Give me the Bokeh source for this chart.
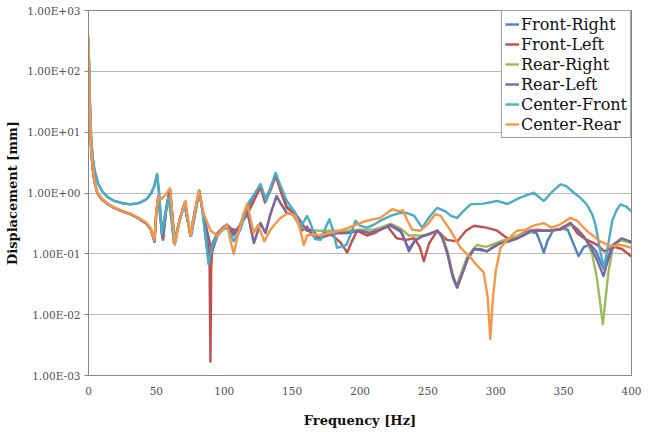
from bokeh.plotting import figure
from bokeh.models import Legend, LegendItem, FixedTicker, CustomJSTickFormatter
from bokeh.embed import file_html
from bokeh.resources import INLINE

# ---------------- data ----------------
series_names = ["Front-Right", "Front-Left", "Rear-Right", "Rear-Left", "Center-Front", "Center-Rear"]
series_colors = ["#4F81BD", "#C0504D", "#9BBB59", "#8064A2", "#4BACC6", "#F79646"]

x_ticks = [0, 50, 100, 150, 200, 250, 300, 350, 400]
y_ticks = [1e-3, 1e-2, 1e-1, 1e0, 1e1, 1e2, 1e3]
y_tick_labels = ["1.00E-03", "1.00E-02", "1.00E-01", "1.00E+00", "1.00E+01", "1.00E+02", "1.00E+03"]

low_f = [0, 0.5, 1, 1.5, 2, 3, 4, 5, 6.5, 10, 15, 19, 25, 31, 37, 43, 46, 48.6]
low_v = [300, 80, 25, 10, 5, 2.6, 1.75, 1.35, 1.0, 0.78, 0.64, 0.57, 0.5, 0.45, 0.38, 0.31, 0.25, 0.16]

fr_f = [0, 0.5, 1, 1.5, 2, 3, 4, 5, 7, 10, 14, 19, 25, 31, 38, 43, 46, 48.5, 50.5, 52, 54, 56.5, 59, 61, 63,
        67, 70.7, 73, 75.6, 78.5, 81.7, 84, 86, 88.5, 91, 95, 99, 102, 107, 112, 117, 122, 126.7, 130, 134,
        137.8, 142, 146, 152, 157, 161, 166, 170, 176, 183, 190, 200, 207, 215, 222.5, 230, 236, 241, 247,
        257, 261, 265, 268.5, 271.5, 275, 279, 284, 293.6, 303.5, 316, 325.6, 330, 333, 335.4, 338, 342, 348,
        353, 357, 361, 365, 370, 374, 377.5, 379.6, 382, 386, 392, 400]
fr_v = [350, 100, 35, 15, 8, 4, 2.7, 2.1, 1.45, 1.08, 0.86, 0.74, 0.68, 0.65, 0.69, 0.8, 0.98, 1.3, 2.0, 1.0,
        0.21, 0.45, 0.83, 0.4, 0.15, 0.35, 0.66, 0.35, 0.2, 0.45, 1.08, 0.5, 0.21, 0.07, 0.13, 0.2, 0.26, 0.28,
        0.2, 0.3, 0.55, 0.9, 1.35, 0.75, 1.2, 2.0, 1.2, 0.6, 0.45, 0.26, 0.25, 0.2, 0.18, 0.2, 0.22, 0.22, 0.24,
        0.22, 0.25, 0.29, 0.23, 0.12, 0.17, 0.2, 0.24, 0.18, 0.09, 0.04, 0.028, 0.045, 0.08, 0.12, 0.11, 0.15,
        0.18, 0.23, 0.22, 0.15, 0.105, 0.16, 0.24, 0.26, 0.25, 0.15, 0.092, 0.13, 0.14, 0.11, 0.07, 0.056, 0.08,
        0.14, 0.17, 0.16]

fl_f = low_f + [50, 51.5, 53, 55, 57.5, 60, 63.6, 67, 71, 75, 78, 81.5, 85, 88, 89.2, 89.8, 90.4, 91.5, 95, 99,
                102, 107, 112, 117, 122, 126.7, 130, 134, 138, 142, 146, 151, 157, 161, 164, 167, 171, 174, 180,
                186, 190.6, 194, 198, 205, 211, 220, 227, 234, 240, 244, 247, 251, 257, 264, 271.6, 278, 284,
                293, 301, 308.5, 313, 320, 325.6, 330.5, 340, 347.7, 355, 360, 365, 374.7, 380, 387, 393, 400]
fl_v = low_v + [0.5, 0.9, 0.4, 0.17, 0.6, 1.15, 0.15, 0.35, 0.7, 0.2, 0.45, 1.08, 0.4, 0.2, 0.06, 0.0017, 0.06,
                0.15, 0.22, 0.27, 0.3, 0.22, 0.3, 0.45, 0.75, 1.25, 0.7, 1.1, 1.9, 1.0, 0.57, 0.47, 0.24, 0.28,
                0.22, 0.18, 0.2, 0.22, 0.2, 0.15, 0.105, 0.16, 0.24, 0.2, 0.22, 0.29, 0.18, 0.17, 0.18, 0.13,
                0.076, 0.15, 0.24, 0.17, 0.16, 0.24, 0.29, 0.27, 0.24, 0.18, 0.18, 0.22, 0.24, 0.25, 0.24, 0.26,
                0.32, 0.22, 0.18, 0.14, 0.11, 0.13, 0.12, 0.09]

rr_f = low_f + [50, 51.5, 53, 54.5, 57.5, 60, 63.6, 67, 71, 75, 78, 81.5, 85, 88, 91, 95, 99, 102, 105, 109.5,
                113, 117, 121.8, 126.7, 130.4, 134, 138.5, 142, 146, 150, 155, 160, 170, 180, 190, 200, 210,
                215, 222.5, 230, 236, 245, 251, 257, 261, 265, 268.5, 271, 274, 279, 286, 293, 303.5, 310, 316,
                322, 328, 338, 347.7, 355, 360, 366, 371, 374.5, 377, 378.9, 380.5, 383, 386, 392, 400]
rr_v = low_v + [0.5, 0.88, 0.4, 0.18, 0.6, 1.15, 0.15, 0.35, 0.7, 0.2, 0.45, 1.08, 0.4, 0.2, 0.11, 0.2, 0.27,
                0.3, 0.26, 0.24, 0.35, 0.5, 0.15, 0.32, 0.22, 0.45, 0.89, 0.65, 0.47, 0.45, 0.3, 0.25, 0.24,
                0.24, 0.24, 0.25, 0.25, 0.27, 0.31, 0.26, 0.2, 0.2, 0.21, 0.24, 0.19, 0.1, 0.045, 0.03, 0.045,
                0.09, 0.14, 0.13, 0.16, 0.18, 0.2, 0.22, 0.24, 0.24, 0.25, 0.3, 0.26, 0.18, 0.1, 0.04, 0.015,
                0.007, 0.015, 0.05, 0.12, 0.17, 0.15]

rl_f = low_f + [50, 51.5, 53, 54.5, 57.5, 60, 63.6, 67, 71, 75, 78, 81.5, 85, 88, 91, 95, 99, 102, 105, 109.5,
                113, 117, 121.8, 126.7, 130.4, 134, 138.5, 142, 146, 153.7, 158, 161, 165, 169.6, 175, 183, 190,
                200, 207, 215, 222.5, 230, 233, 236, 240, 245, 251, 257, 260, 264, 268, 271.6, 275, 279, 284,
                289, 293.6, 298, 303.5, 310, 316, 320, 325.6, 333, 338, 347.7, 355, 360, 365, 370, 373.5,
                379.4, 382, 385, 388, 393, 400]
rl_v = low_v + [0.5, 0.88, 0.4, 0.18, 0.6, 1.15, 0.15, 0.35, 0.7, 0.2, 0.45, 1.08, 0.4, 0.2, 0.11, 0.2, 0.27,
                0.3, 0.26, 0.24, 0.35, 0.5, 0.15, 0.32, 0.22, 0.45, 0.89, 0.65, 0.47, 0.42, 0.3, 0.24, 0.25,
                0.18, 0.2, 0.22, 0.22, 0.24, 0.22, 0.25, 0.3, 0.24, 0.17, 0.11, 0.16, 0.19, 0.21, 0.24, 0.2,
                0.11, 0.045, 0.028, 0.045, 0.08, 0.12, 0.12, 0.11, 0.13, 0.15, 0.16, 0.18, 0.2, 0.24, 0.24,
                0.24, 0.25, 0.32, 0.25, 0.19, 0.13, 0.09, 0.043, 0.07, 0.11, 0.15, 0.18, 0.155]

cf_f = [0, 0.5, 1, 1.5, 2, 3, 4, 5, 7, 10, 14, 19, 25, 31, 38, 43, 46, 48.5, 50.5, 52, 54, 56.5, 59, 61, 63,
        67, 70.7, 73, 75.6, 78.5, 81.7, 84, 86, 88.5, 91, 95, 99, 102, 105, 107, 112, 117, 122, 126.7, 129, 131,
        134.5, 137.8, 141, 146, 149, 152.5, 156, 161, 164, 167, 171, 174, 177.5, 180, 183, 187, 190, 193.5,
        196.7, 200, 205, 210, 215, 222.5, 229.6, 234.7, 240, 245.8, 251, 256.8, 263, 267, 271.6, 276, 281.4,
        291, 301, 308.5, 318, 328, 335.4, 341.6, 347.7, 352, 357.5, 362, 367, 371, 373.5, 377, 379.6, 382,
        385.8, 389, 392, 396, 400]
cf_v = [340, 100, 35, 15, 8, 4, 2.7, 2.1, 1.45, 1.08, 0.86, 0.74, 0.68, 0.65, 0.69, 0.8, 0.98, 1.3, 2.05, 1.0,
        0.21, 0.45, 0.83, 0.4, 0.15, 0.35, 0.66, 0.35, 0.2, 0.45, 1.08, 0.5, 0.21, 0.068, 0.13, 0.2, 0.25, 0.27,
        0.2, 0.16, 0.25, 0.65, 0.95, 1.4, 1.0, 0.74, 1.3, 2.16, 1.4, 0.75, 0.6, 0.47, 0.27, 0.42, 0.3, 0.175,
        0.17, 0.25, 0.37, 0.25, 0.126, 0.134, 0.14, 0.22, 0.35, 0.29, 0.27, 0.3, 0.35, 0.42, 0.47, 0.47, 0.42,
        0.27, 0.4, 0.57, 0.5, 0.42, 0.39, 0.5, 0.65, 0.67, 0.74, 0.66, 0.84, 1.01, 0.74, 1.05, 1.39, 1.3, 1.01,
        0.85, 0.65, 0.45, 0.3, 0.11, 0.059, 0.11, 0.35, 0.52, 0.65, 0.6, 0.5]

cr_f = [0, 0.5, 1, 1.5, 2, 3, 4, 5, 6.5, 10, 15, 19, 25, 31, 37, 43, 46, 48.6, 50, 51.8, 54, 57, 60, 63.6, 67,
        71.5, 75, 78, 81.3, 85, 90, 95, 99, 102, 105, 107, 110, 114, 117, 121.6, 125, 129.5, 134, 137, 141, 145,
        148.8, 152.5, 155, 158.6, 161, 165, 170, 178, 185.6, 195.4, 205, 215, 223.7, 229, 231.6, 235, 238.4,
        244.6, 249.5, 255.6, 259.4, 266.7, 274, 281.4, 286, 291, 294, 296, 298, 300, 303.5, 308.5, 315.8, 322,
        328, 335.4, 341, 347, 355, 360, 367, 377, 384.5, 392, 400]
cr_v = [380, 90, 28, 11, 5.5, 2.8, 1.85, 1.4, 1.02, 0.8, 0.65, 0.58, 0.51, 0.46, 0.39, 0.32, 0.26, 0.17, 0.5,
        0.89, 0.8, 0.95, 1.2, 0.14, 0.35, 0.74, 0.2, 0.45, 1.1, 0.45, 0.24, 0.2, 0.26, 0.3, 0.15, 0.1, 0.2, 0.45,
        0.66, 0.22, 0.3, 0.16, 0.25, 0.3, 0.38, 0.44, 0.47, 0.41, 0.3, 0.14, 0.2, 0.21, 0.2, 0.22, 0.24, 0.29,
        0.35, 0.39, 0.54, 0.5, 0.52, 0.35, 0.25, 0.24, 0.3, 0.45, 0.42, 0.24, 0.126, 0.087, 0.065, 0.05, 0.02,
        0.004, 0.02, 0.052, 0.126, 0.17, 0.24, 0.25, 0.29, 0.32, 0.27, 0.3, 0.39, 0.35, 0.24, 0.16, 0.134, 0.14,
        0.126]

series_f = [fr_f, fl_f, rr_f, rl_f, cf_f, cr_f]
series_v = [fr_v, fl_v, rr_v, rl_v, cf_v, cr_v]

# ---------------- figure ----------------
SERIF = "DejaVu Serif"
p = figure(frame_width=543, frame_height=365, x_range=(0, 400), y_range=(1e-3, 1e3),
           y_axis_type="log", output_backend="svg", toolbar_location=None,
           min_border_left=88, min_border_right=16, min_border_top=10, min_border_bottom=54,
           background_fill_color="white", border_fill_color="white")
p.outline_line_color = "#868686"
p.outline_line_width = 1

p.xgrid.grid_line_color = None
p.ygrid.grid_line_color = "#B8B8B8"
p.ygrid.grid_line_width = 1

p.xaxis.ticker = FixedTicker(ticks=x_ticks)
p.yaxis.ticker = FixedTicker(ticks=y_ticks)
p.yaxis.formatter = CustomJSTickFormatter(args=dict(vals=y_ticks, labels=y_tick_labels), code="""
let best = 0, d = Infinity;
for (let i = 0; i < vals.length; i++) {
  const e = Math.abs(Math.log10(vals[i]) - Math.log10(tick));
  if (e < d) { d = e; best = i; }
}
return labels[best];
""")

for ax in (p.xaxis[0], p.yaxis[0]):
    ax.axis_line_color = "#868686"
    ax.major_tick_line_color = "#868686"
    ax.minor_tick_line_color = None
    ax.major_tick_in = 0
    ax.major_label_text_font = SERIF
    ax.major_label_text_font_size = "10.5px"
    ax.major_label_text_color = "#505050"
    ax.axis_label_text_font = SERIF
    ax.axis_label_text_font_size = "13px"
    ax.axis_label_text_font_style = "bold"
    ax.axis_label_text_color = "#111111"

p.xaxis.major_tick_out = 0
p.xaxis.major_label_standoff = 11
p.xaxis.axis_label = "Frequency [Hz]"
p.xaxis.axis_label_standoff = 15
p.yaxis.major_tick_out = 4
p.yaxis.major_label_standoff = 4
p.yaxis.axis_label = "Displacement [mm]"
p.yaxis.axis_label_standoff = 4

items = []
for name, col, fs, vs in zip(series_names, series_colors, series_f, series_v):
    r = p.line(fs, vs, line_color=col, line_width=2.4, line_join="round")
    items.append(LegendItem(label=name, renderers=[r]))

legend = Legend(items=items, location="top_right")
legend.margin = 0
legend.padding = 3
legend.spacing = 0
legend.label_height = 20
legend.glyph_height = 20
legend.glyph_width = 14
legend.label_standoff = 2
legend.label_text_font = SERIF
legend.label_text_font_size = "16px"
legend.label_text_color = "#111111"
legend.border_line_color = "#404040"
legend.border_line_width = 1
legend.background_fill_color = "white"
legend.background_fill_alpha = 1.0
p.add_layout(legend)

open("out.html", "w").write(file_html(p, INLINE))
